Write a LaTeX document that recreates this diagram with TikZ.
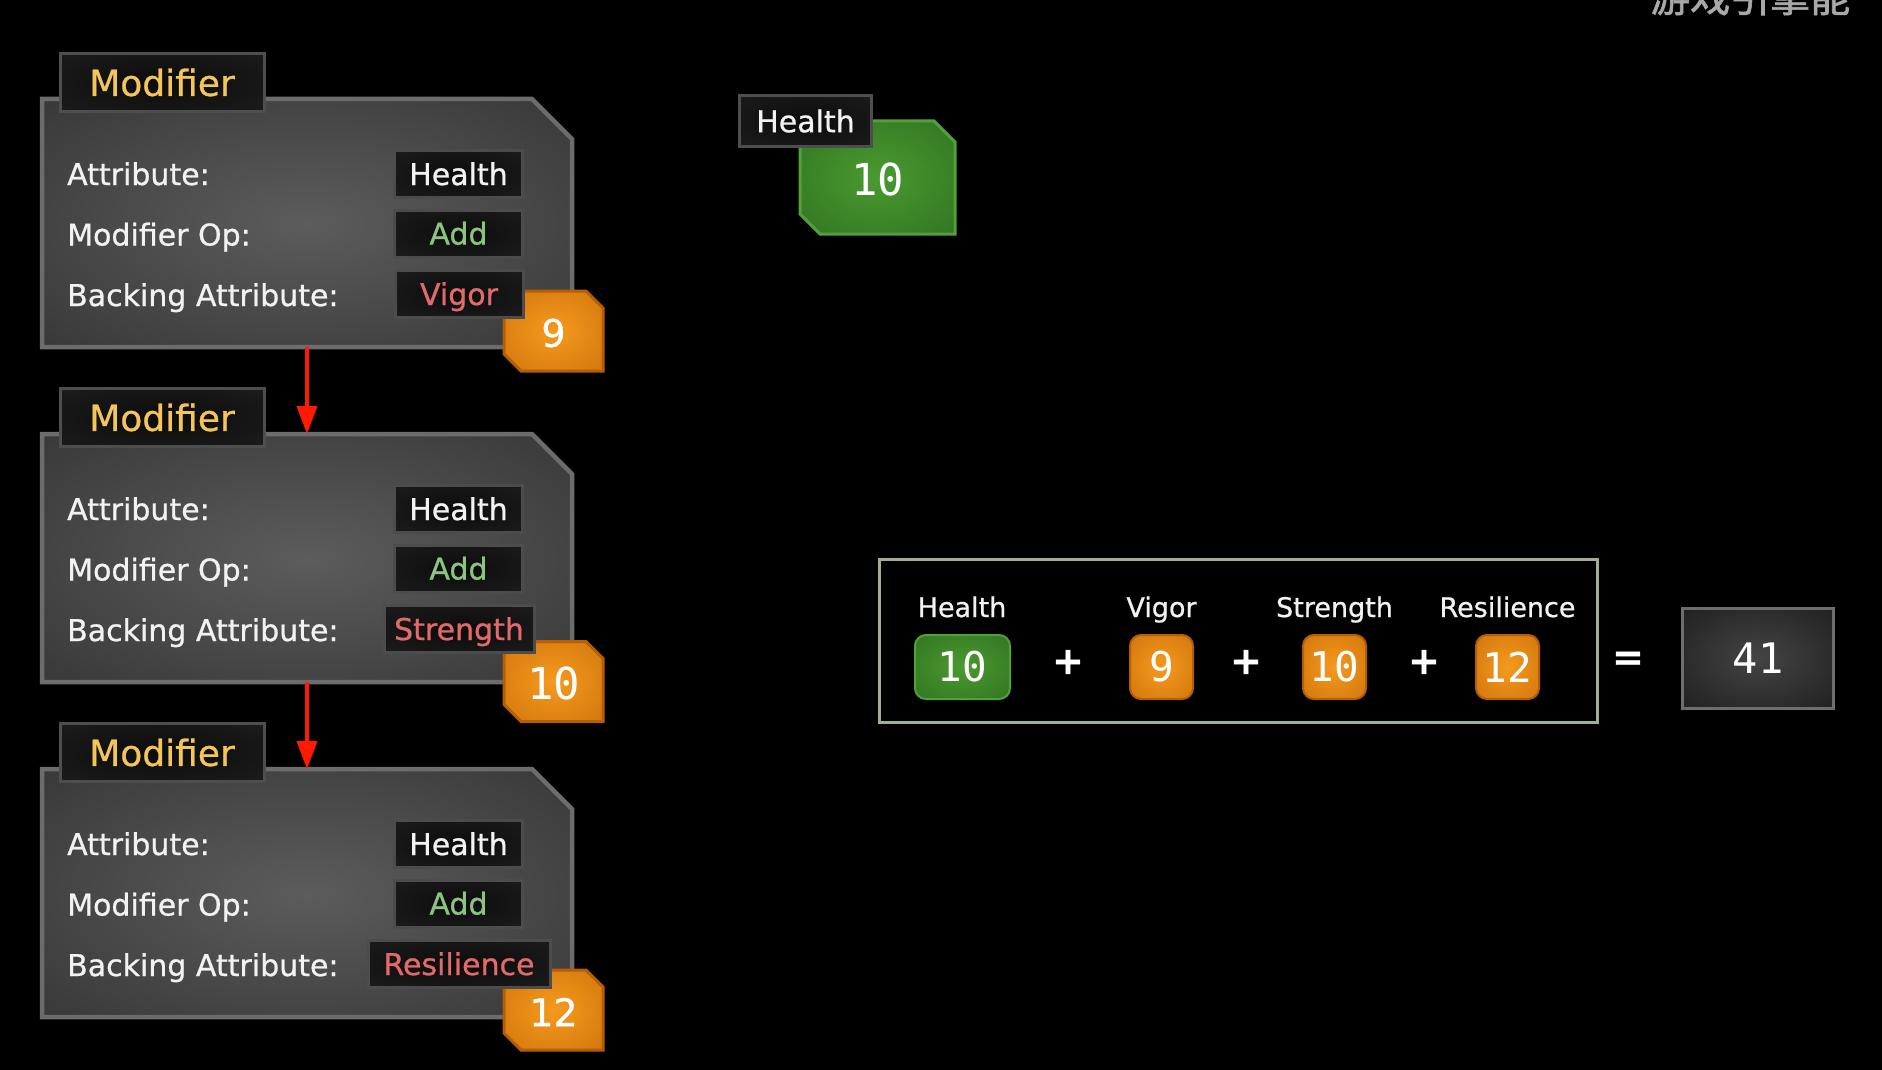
\documentclass[tikz,border=0pt]{standalone}
\usepackage{fontspec}
\setmainfont{DejaVu Sans}[FakeBold=0.8]
\newfontfamily\monofont{DejaVu Sans Mono}
\newfontfamily\cjkfont{Noto Sans CJK SC}[FakeBold=1.5]
\usetikzlibrary{arrows.meta}

\definecolor{panc}{HTML}{5C5C5C}
\definecolor{pane}{HTML}{2A2A2A}
\definecolor{panborder}{HTML}{6C6C6C}
\definecolor{tabc}{HTML}{0C0C0C}
\definecolor{tabe}{HTML}{222222}
\definecolor{tabborder}{HTML}{4E4E4E}
\definecolor{vbborder}{HTML}{4C4C4C}
\definecolor{titleyel}{HTML}{F4C65A}
\definecolor{lblwhite}{HTML}{F2F2F2}
\definecolor{addgreen}{HTML}{8CC282}
\definecolor{attrred}{HTML}{E36A6A}
\definecolor{orc}{HTML}{F59A1E}
\definecolor{ore}{HTML}{C46806}
\definecolor{orborder}{HTML}{B45E06}
\definecolor{grc}{HTML}{4A9A30}
\definecolor{gre}{HTML}{28661C}
\definecolor{grborder}{HTML}{52A03C}
\definecolor{resc}{HTML}{444444}
\definecolor{rese}{HTML}{121212}
\definecolor{resborder}{HTML}{6E6E6E}
\definecolor{fborder}{HTML}{9DB08F}
\definecolor{arrowred}{HTML}{FF1A00}
\definecolor{wmgray}{HTML}{A8A8A8}

\pgfdeclareradialshading{panelsh}{\pgfpoint{0bp}{0bp}}{color(0bp)=(panc); color(50bp)=(pane); color(75bp)=(pane)}
\pgfdeclareradialshading{tabsh}{\pgfpoint{0bp}{0bp}}{color(0bp)=(tabc); color(50bp)=(tabe); color(75bp)=(tabe)}
\pgfdeclareradialshading{orsh}{\pgfpoint{0bp}{0bp}}{color(0bp)=(orc); color(50bp)=(ore); color(75bp)=(ore)}
\pgfdeclareradialshading{grsh}{\pgfpoint{0bp}{0bp}}{color(0bp)=(grc); color(50bp)=(gre); color(75bp)=(gre)}
\pgfdeclareradialshading{ressh}{\pgfpoint{0bp}{0bp}}{color(0bp)=(resc); color(50bp)=(rese); color(75bp)=(rese)}

\tikzset{
  panelnode/.style={inner sep=0pt, outer sep=0pt, minimum width=530pt, minimum height=248pt},
  badgeframe/.style={inner sep=0pt, outer sep=0pt, minimum width=99pt, minimum height=80pt},
  lbl/.style={anchor=base west, inner sep=0pt, text=lblwhite, font=\fontsize{30}{36}\selectfont},
  tabbox/.style={shade, shading=tabsh, draw=tabborder, line width=3pt, minimum width=204pt,
    minimum height=58pt, inner sep=0pt, text=titleyel, font=\fontsize{36}{40}\selectfont},
  vbox/.style={shade, shading=tabsh, draw=vbborder, line width=3pt, minimum height=47pt,
    inner sep=0pt, text height=22pt, text depth=0pt, font=\fontsize{30}{36}\selectfont},
  badgetxt/.style={inner sep=0pt, text=white, font=\fontsize{38}{40}\selectfont},
  redarrow/.style={draw=arrowred, line width=4pt, -{Triangle[width=20pt,length=28pt]}},
  flbl/.style={anchor=base, inner sep=0pt, text=lblwhite, font=\fontsize{27}{32}\selectfont},
  grround/.style={shade, shading=grsh, draw=grborder, line width=2pt, rounded corners=11pt,
    minimum width=95pt, minimum height=64pt, inner sep=0pt, text=white, font=\monofont\fontsize{41}{41}\selectfont},
  orround/.style={shade, shading=orsh, draw=orborder, line width=2pt, rounded corners=11pt,
    minimum width=63pt, minimum height=64pt, inner sep=0pt, text=white, font=\monofont\fontsize{41}{41}\selectfont},
  opsym/.style={inner sep=0pt, text=white, font=\bfseries\fontsize{38}{38}\selectfont},
}

\newcommand{\modpanel}[6]{%
  \node[panelnode] (p#1) at (307,223+#2) {};
  \shadedraw[shading=panelsh, draw=panborder, line width=4.5pt]
    (p#1.south west) -- (p#1.north west) -- ([xshift=-40pt]p#1.north east)
    -- ([yshift=-40pt]p#1.north east) -- (p#1.south east) -- cycle;
  \node[tabbox] (t#1) at (162,82.5+#2) {Modifier};
  \node[lbl] (la#1) at (67,185+#2) {Attribute:};
  \node[lbl] (lb#1) at (67,245.5+#2) {Modifier Op:};
  \node[lbl] (lc#1) at (67,306+#2) {Backing Attribute:};
  \node[badgeframe] (b#1) at (553.5,#5) {};
  \shadedraw[shading=orsh, draw=orborder, line width=3pt]
    ([yshift=17pt]b#1.south west) -- (b#1.north west) -- ([xshift=-17pt]b#1.north east)
    -- ([yshift=-17pt]b#1.north east) -- (b#1.south east) -- ([xshift=17pt]b#1.south west) -- cycle;
  \node[badgetxt] (bt#1) at ([yshift=-2pt]b#1.center) {#6};
  \node[vbox, minimum width=128pt, text=lblwhite] (va#1) at (458.5,174+#2) {Health};
  \node[vbox, minimum width=128pt, text=addgreen] (vb#1) at (458.5,233.5+#2) {Add};
  \node[vbox, minimum width=#4, text=attrred] (vc#1) at (459,294+#2) {#3};
}

\begin{document}
\begin{tikzpicture}[x=1pt,y=-1pt]
\useasboundingbox (0,0) rectangle (1882,1070);
\fill[black] (0,0) rectangle (1882,1070);

% watermark (cut at the top edge, as in the reference)
\node[anchor=base west, inner sep=0pt, text=wmgray, font=\cjkfont\fontsize{40}{40}\selectfont] (wm) at (1650,12) {游戏引擎能};

% modifier panels
\modpanel{1}{0}{Vigor}{128pt}{331}{9}
\modpanel{2}{335}{Strength}{150pt}{681.5}{\monofont\fontsize{44}{44}\selectfont 10}
\modpanel{3}{670}{Resilience}{182pt}{1010}{12}

\draw[redarrow] (p1.south) -- (p2.north);
\draw[redarrow] (p2.south) -- (p3.north);

% health attribute widget
\node[inner sep=0pt, outer sep=0pt, minimum width=155pt, minimum height=113pt] (hg) at (877.5,177.5) {};
\shadedraw[shading=grsh, draw=grborder, line width=3pt]
  ([yshift=20pt]hg.south west) -- (hg.north west) -- ([xshift=-21pt]hg.north east)
  -- ([yshift=-21pt]hg.north east) -- (hg.south east) -- ([xshift=20pt]hg.south west) -- cycle;
\node[inner sep=0pt, text=white, font=\monofont\fontsize{44}{44}\selectfont] (hgv) at ([yshift=-1.5pt]hg.center) {10};
\node[tabbox, minimum width=132pt, minimum height=51pt, text=lblwhite, font=\fontsize{30}{36}\selectfont] (hl) at (805.5,121) {Health};

% formula
\node[draw=fborder, line width=3pt, minimum width=718pt, minimum height=163pt, inner sep=0pt] (fb) at (1238.5,641) {};
\node[flbl] (fl1) at (962,617) {Health};
\node[flbl] (fl2) at (1161.5,617) {Vigor};
\node[flbl] (fl3) at (1334.5,617) {Strength};
\node[flbl] (fl4) at (1507.5,617) {Resilience};
\node[grround] (fv1) at (962.5,667) {10};
\node[orround] (fv2) at (1161.5,667) {9};
\node[orround] (fv3) at (1334.5,667) {10};
\node[orround] (fv4) at (1507.5,667) {12};
\node[opsym] (pl1) at (1068,662) {+};
\node[opsym] (pl2) at (1246,662) {+};
\node[opsym] (pl3) at (1424,662) {+};
\node[opsym] (eq) at (1628,661) {=};
\node[shade, shading=ressh, draw=resborder, line width=3pt, minimum width=151pt, minimum height=100pt,
  inner sep=0pt, text=white, font=\monofont\fontsize{42}{42}\selectfont] (res) at (1758,658) {41};
\end{tikzpicture}
\end{document}
